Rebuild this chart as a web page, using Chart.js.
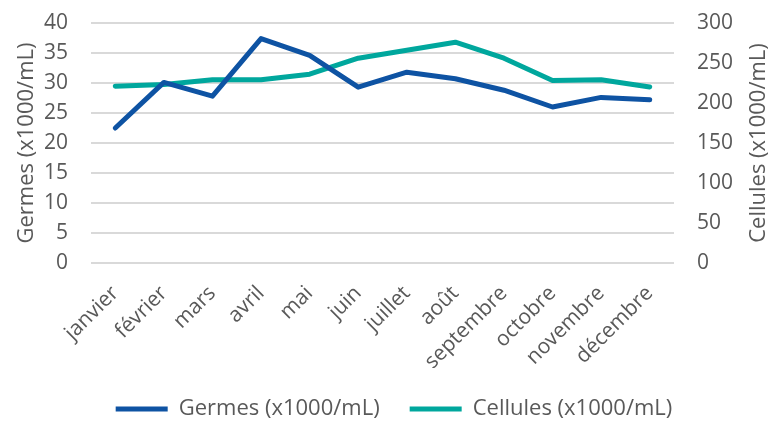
<!DOCTYPE html>
<html>
<head>
<meta charset="utf-8">
<script src="https://cdn.jsdelivr.net/npm/chart.js@4/dist/chart.umd.min.js"></script>
<style>
html,body{margin:0;padding:0;background:#fff;}
#wrap{width:770px;height:421px;}
</style>
</head>
<body>
<div id="wrap"><canvas id="c" width="770" height="421"></canvas></div>
<script>
const months = ['janvier','février','mars','avril','mai','juin','juillet','août','septembre','octobre','novembre','décembre'];
const germes = [22.5, 30.1, 27.8, 37.4, 34.6, 29.3, 31.8, 30.7, 28.8, 26.0, 27.6, 27.2];
const cellules = [221, 223, 229, 229, 236, 256, 266, 276, 256, 228, 229, 220];
const germesLabel = 'Germes (x1000/mL)';
const cellulesLabel = 'Cellules (x1000/mL)';

const font = "'Open Sans', 'Noto Sans', sans-serif";
const textColor = '#595959';

const axisTitles = {
  id: 'axisTitles',
  afterDraw(chart) {
    const {ctx, chartArea} = chart;
    const cy = (chartArea.top + chartArea.bottom) / 2;
    ctx.save();
    ctx.fillStyle = textColor;
    ctx.font = "22px " + font;
    ctx.textAlign = 'center';
    ctx.textBaseline = 'middle';
    ctx.translate(27, cy);
    ctx.rotate(-Math.PI / 2);
    ctx.fillText(germesLabel, 0, 0);
    ctx.restore();
    ctx.save();
    ctx.fillStyle = textColor;
    ctx.font = "22px " + font;
    ctx.textAlign = 'center';
    ctx.textBaseline = 'middle';
    ctx.translate(759, cy);
    ctx.rotate(-Math.PI / 2);
    ctx.fillText(cellulesLabel, 0, 0);
    ctx.restore();
  }
};

new Chart(document.getElementById('c'), {
  type: 'line',
  data: {
    labels: months,
    datasets: [
      { label: germesLabel, data: germes, yAxisID: 'y', borderColor: '#0E53A3', backgroundColor: '#0E53A3',
        borderWidth: 5, pointRadius: 0, tension: 0, borderCapStyle: 'round', borderJoinStyle: 'round' },
      { label: cellulesLabel, data: cellules, yAxisID: 'y1', borderColor: '#00A79D', backgroundColor: '#00A79D',
        borderWidth: 5, pointRadius: 0, tension: 0, borderCapStyle: 'round', borderJoinStyle: 'round' }
    ]
  },
  plugins: [axisTitles],
  options: {
    responsive: false,
    animation: false,
    devicePixelRatio: 1,
    layout: { padding: { top: 23, left: 18, right: 0, bottom: -9 } },
    plugins: {
      legend: {
        position: 'bottom',
        labels: {
          color: textColor,
          font: { family: font, size: 22 },
          boxWidth: 52, boxHeight: 0,
          padding: 30,
          generateLabels(chart) {
            return chart.data.datasets.map((ds, i) => ({
              text: ds.label, fillStyle: ds.borderColor, strokeStyle: ds.borderColor,
              lineWidth: 5, lineCap: 'round', hidden: false, datasetIndex: i, fontColor: textColor
            }));
          }
        }
      },
      tooltip: { enabled: false }
    },
    scales: {
      x: {
        offset: true,
        afterFit(s) { s.height = 105; },
        grid: { display: false, drawTicks: false },
        border: { display: false },
        ticks: { color: textColor, font: { family: font, size: 21 }, minRotation: 45, maxRotation: 45, padding: 18, autoSkip: false }
      },
      y: {
        position: 'left', min: 0, max: 40,
        afterFit(s) { s.width = 73; s.paddingTop = 0; s.paddingBottom = 0; },
        grid: { color: '#d9d9d9', lineWidth: 2, drawTicks: false },
        border: { display: false },
        ticks: { stepSize: 5, color: textColor, font: { family: font, size: 21 }, padding: 23 }
      },
      y1: {
        position: 'right', min: 0, max: 300,
        afterFit(s) { s.width = 96; s.paddingTop = 0; s.paddingBottom = 0; },
        grid: { display: false, drawTicks: false },
        border: { display: false },
        ticks: { stepSize: 50, color: textColor, font: { family: font, size: 21 }, padding: 23 }
      }
    }
  }
});
</script>
</body>
</html>
